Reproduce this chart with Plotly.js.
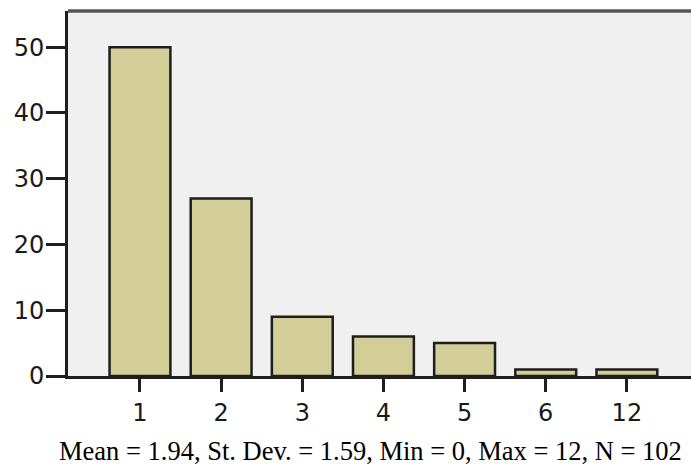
<!DOCTYPE html>
<html>
<head>
<meta charset="utf-8">
<script src="https://cdn.plot.ly/plotly-3.0.1.min.js"></script>
<style>html,body{margin:0;padding:0;background:#fff;}#chart{width:691px;height:466px;}</style>
</head>
<body>
<div id="chart"></div>
<script>
const categories = ['1', '2', '3', '4', '5', '6', '12'];
const counts = [50, 27, 9, 6, 5, 1, 1];
const yTicks = [0, 10, 20, 30, 40, 50];
const caption = 'Mean = 1.94, St. Dev. = 1.59, Min = 0, Max = 12, N = 102';

const trace = {
  type: 'bar',
  x: categories,
  y: counts,
  marker: { color: '#d3ce97', line: { color: '#1e1e1e', width: 2.5 } },
  hoverinfo: 'x+y'
};

const layout = {
  width: 691, height: 466,
  margin: { l: 68, r: 0, t: 11, b: 90, autoexpand: false },
  paper_bgcolor: '#ffffff',
  plot_bgcolor: '#f0f0f0',
  bargap: 0.25,
  showlegend: false,
  font: { family: 'DejaVu Sans', size: 24, color: '#1a1a1a' },
  xaxis: {
    type: 'category',
    range: [-0.887, 6.79],
    showgrid: false, zeroline: false,
    showline: true, linecolor: '#1e1e1e', linewidth: 3,
    ticks: 'outside', ticklen: 13, tickwidth: 3, tickcolor: '#1e1e1e',
    tickfont: { size: 24, family: 'DejaVu Sans', color: '#1a1a1a' },
    fixedrange: true
  },
  yaxis: {
    range: [0, 55.5],
    tickvals: yTicks,
    showgrid: false, zeroline: false,
    showline: true, linecolor: '#1e1e1e', linewidth: 3,
    ticks: 'outside', ticklen: 19, tickwidth: 3, tickcolor: '#1e1e1e',
    ticklabelstandoff: -3,
    tickfont: { size: 24, family: 'DejaVu Sans', color: '#1a1a1a' },
    fixedrange: true
  },
  shapes: [{
    type: 'line', xref: 'paper', yref: 'paper',
    x0: 0, x1: 1, y0: 1, y1: 1,
    line: { color: '#555555', width: 3.5 }
  }],
  annotations: [{
    text: caption,
    xref: 'paper', yref: 'paper',
    x: 0.486, y: -0.205,
    xanchor: 'center', yanchor: 'middle',
    showarrow: false,
    font: { family: 'Liberation Serif', size: 26.5, color: '#000' }
  }]
};

Plotly.newPlot('chart', [trace], layout, { displayModeBar: false, staticPlot: true });
</script>
</body>
</html>
